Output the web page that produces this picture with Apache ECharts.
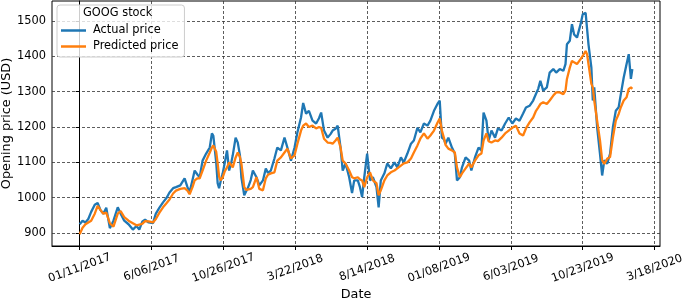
<!DOCTYPE html>
<html>
<head>
<meta charset="utf-8">
<script src="https://cdn.jsdelivr.net/npm/echarts@6/dist/echarts.min.js"></script>
<style>
  html, body { margin: 0; padding: 0; background: #fff; }
  #main { width: 685px; height: 300px; }
</style>
</head>
<body>
<div id="main"></div>
<script>
// trading day index since 01/11/2017
var days = [0,4,8,12,16,21,25,29,33,37,42,47,53,57,62,68,74,79,83,87,91,96,102,106,111,116,121,125,130,
  134,140,146,150,153,157,160,164,167,171,176,181,184,186,188,190,192,194,196,199,202,205,208,211,213,217,220,223,225,229,232,234,238,241,246,
  250,255,259,262,266,271,275,280,285,289,294,299,303,308,311,315,319,324,329,333,336,340,345,349,352,356,359,363,366,370,375,379,382,
  387,390,393,396,400,404,408,413,416,419,424,428,433,438,442,447,451,456,461,465,470,474,479,484,488,493,498,501,504,507,
  509,513,518,522,525,529,532,537,542,545,550,555,559,562,566,569,573,578,582,587,592,597,602,607,612,617,621,626,631,635,638,
  641,645,650,654,659,663,668,673,676,678,682,685,688,692,697,700,704,706,708,712,714,716,720,724,727,730,734,738,742,746,750,753,757,761,764,767,769];

var actual = [925,935,930,940,960,980,985,965,955,972,914,935,973,955,935,925,910,920,910,932,938,930,928,955,972,987,1000,1015,1027,
  1030,1035,1055,1030,1016,1050,1077,1065,1058,1105,1125,1142,1182,1175,1170,1100,1041,1027,1045,1069,1100,1134,1077,1100,1120,1170,1156,1120,1058,1007,1020,1027,1050,1077,1058,
  1035,1049,1083,1070,1077,1111,1142,1134,1170,1142,1105,1142,1185,1227,1268,1238,1246,1218,1210,1225,1241,1190,1170,1180,1190,1195,1204,1142,1077,1097,1058,1013,1049,
  1049,1030,1002,1058,1125,1049,1058,1030,973,1049,1069,1097,1083,1100,1086,1114,1100,1125,1153,1162,1198,1185,1210,1204,1218,1246,1266,1275,1170,1165,
  1153,1170,1142,1125,1049,1058,1086,1114,1105,1077,1114,1142,1134,1241,1218,1162,1190,1170,1196,1190,1210,1227,1210,1224,1218,1238,1255,1260,1275,1294,1308,
  1331,1303,1312,1354,1364,1354,1364,1359,1378,1434,1444,1491,1462,1453,1491,1519,1523,1519,1434,1368,1275,1312,1200,1124,1063,1106,1096,1124,1200,1246,1256,1293,1340,1378,1406,1336,1364];

var predicted = [897,915,925,930,935,955,977,965,955,958,928,918,955,962,945,935,928,922,924,926,934,933,930,940,958,973,985,995,1012,
  1020,1025,1027,1020,1010,1030,1049,1055,1055,1077,1105,1128,1142,1148,1153,1130,1097,1060,1049,1058,1075,1086,1100,1092,1086,1114,1128,1115,1097,1030,1022,1021,1025,1030,1058,
  1025,1021,1055,1065,1069,1072,1105,1114,1128,1139,1111,1120,1153,1190,1204,1210,1200,1204,1196,1200,1198,1167,1156,1155,1153,1162,1170,1142,1105,1097,1077,1058,1055,
  1058,1052,1049,1030,1058,1072,1049,1041,1007,1021,1049,1063,1072,1077,1083,1091,1097,1100,1111,1128,1148,1167,1182,1167,1176,1190,1213,1224,1190,1168,
  1150,1139,1134,1128,1086,1058,1069,1083,1097,1086,1105,1120,1125,1162,1182,1160,1156,1162,1160,1170,1182,1190,1198,1204,1182,1176,1196,1213,1227,1246,1255,
  1265,1270,1265,1275,1289,1298,1298,1293,1303,1336,1368,1387,1383,1378,1392,1401,1415,1406,1378,1322,1312,1275,1218,1162,1106,1096,1110,1115,1171,1218,1237,1256,1275,1284,1308,1312,1308];

var tickDays = [0,100,200,300,400,500,600,700,800];
var tickLabels = ['01/11/2017','6/06/2017','10/26/2017','3/22/2018','8/14/2018','01/08/2019','6/03/2019','10/23/2019','3/18/2020'];
var priceTicks = [900,1000,1100,1200,1300,1400,1500];

var actualData = days.map(function (d, i) { return [d, actual[i]]; });
var predictedData = days.map(function (d, i) { return [d, predicted[i]]; });

var font = 'DejaVu Sans';
var myChart = echarts.init(document.getElementById('main'));

option = {
    backgroundColor: '#FFFFFF',
    animation: false,
    textStyle: { fontFamily: font, color: '#000' },
    title: {
        text: 'GOOG stock',
        left: 83,
        top: 8,
        padding: 0,
        z: 10,
        textStyle: { fontFamily: font, fontSize: 11.4, fontWeight: 'normal', color: '#000' }
    },
    legend: {
        left: 57,
        top: 5,
        orient: 'vertical',
        padding: [19, 6, 4, 4],
        itemGap: 3,
        itemWidth: 25,
        itemHeight: 2.5,
        icon: 'rect',
        backgroundColor: 'rgba(255,255,255,0.8)',
        borderColor: '#cccccc',
        borderWidth: 1,
        borderRadius: 3,
        textStyle: { fontFamily: font, fontSize: 11.4, color: '#000', padding: [0, 0, 0, 2], lineHeight: 13 },
        data: ['Actual price', 'Predicted price']
    },
    grid: {
        left: 52,
        right: 25,
        top: 1,
        bottom: 54,
        show: true,
        borderColor: '#000',
        borderWidth: 1,
        outerBoundsMode: 'none'
    },
    xAxis: {
        type: 'value',
        min: -38.5,
        max: 807.5,
        name: 'Date',
        nameLocation: 'middle',
        nameGap: 42,
        nameMoveOverlap: false,
        nameTextStyle: { fontFamily: font, fontSize: 12.8, color: '#000' },
        axisLine: { onZero: false, lineStyle: { color: '#000', width: 1 } },
        axisTick: { show: true, length: 4, customValues: tickDays, lineStyle: { color: '#000' } },
        axisLabel: {
            customValues: tickDays,
            rotate: 20,
            align: 'center',
            verticalAlign: 'middle',
            margin: 22,
            fontFamily: font,
            fontSize: 11.4,
            color: '#000',
            formatter: function (v) { return tickLabels[tickDays.indexOf(v)]; }
        },
        splitLine: { show: true, lineStyle: { color: '#333', type: [3, 2], width: 0.8 } }
    },
    yAxis: {
        type: 'value',
        min: 863.5,
        max: 1556.5,
        name: 'Opening price (USD)',
        nameLocation: 'middle',
        nameGap: 39,
        nameMoveOverlap: false,
        nameTextStyle: { fontFamily: font, fontSize: 12.8, color: '#000' },
        axisLine: { show: true, lineStyle: { color: '#000', width: 1 } },
        axisTick: { show: true, length: 4, customValues: priceTicks, lineStyle: { color: '#000' } },
        axisLabel: {
            customValues: priceTicks,
            margin: 6,
            fontFamily: font,
            fontSize: 11.4,
            color: '#000',
            formatter: function (v) { return String(v); }
        },
        splitLine: { show: true, lineStyle: { color: '#333', type: [3, 2], width: 0.8 } }
    },
    series: [
        {
            name: 'Actual price',
            type: 'line',
            symbol: 'none',
            color: '#1f77b4',
            lineStyle: { width: 2.3, color: '#1f77b4' },
            data: actualData
        },
        {
            name: 'Predicted price',
            type: 'line',
            symbol: 'none',
            color: '#ff7f0e',
            lineStyle: { width: 2.3, color: '#ff7f0e' },
            data: predictedData
        }
    ]
};
myChart.setOption(option, true);
</script>
</body>
</html>
